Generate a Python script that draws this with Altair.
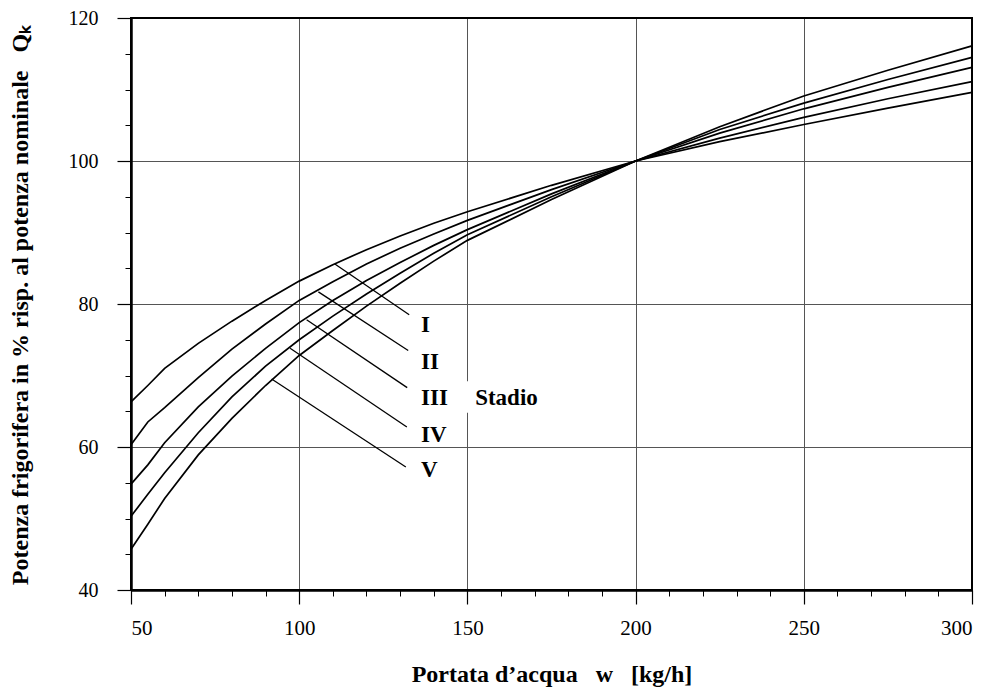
import altair as alt
import pandas as pd

# ---- data ----
flow = [50, 55, 60, 70, 80, 90, 100, 110, 120, 130, 140, 150, 175, 200, 225, 250, 275, 300]
stadio_I = [66.3, 68.6, 71.0, 74.5, 77.6, 80.5, 83.2, 85.5, 87.6, 89.5, 91.3, 92.9, 96.6, 100.0, 102.7, 105.1, 107.4, 109.6]
stadio_II = [60.3, 63.5, 65.5, 69.7, 73.7, 77.2, 80.5, 83.1, 85.6, 87.8, 89.8, 91.7, 96.0, 100.0, 103.2, 106.1, 108.7, 111.1]
stadio_III = [54.8, 57.5, 60.6, 65.6, 69.9, 73.8, 77.4, 80.5, 83.3, 85.8, 88.2, 90.4, 95.4, 100.0, 103.9, 107.3, 110.3, 113.1]
stadio_IV = [50.3, 53.4, 56.4, 62.0, 67.0, 71.3, 75.0, 78.3, 81.4, 84.3, 87.1, 89.7, 95.0, 100.0, 104.4, 108.1, 111.4, 114.5]
stadio_V = [45.7, 49.2, 52.8, 58.9, 64.0, 68.6, 72.8, 76.3, 79.7, 82.9, 86.0, 88.9, 94.6, 100.0, 104.8, 109.1, 112.7, 116.1]

series_names = ["I", "II", "III", "IV", "V"]
series_values = [stadio_I, stadio_II, stadio_III, stadio_IV, stadio_V]

# leader lines from curves to the labels
leader_x1 = [110.6, 105.7, 102.2, 97.3, 91.8]
leader_y1 = [85.6, 81.7, 77.8, 73.8, 69.5]
leader_x2 = [132.7, 132.4, 132.1, 132.0, 131.7]
leader_y2 = [78.5, 73.5, 68.3, 62.8, 57.2]
label_x = [136.2, 136.2, 136.2, 136.2, 136.2]
label_y = [77.1, 71.9, 66.85, 61.7, 56.8]
stadio_text = ["Stadio"]
stadio_x = [152.3]
stadio_y = [66.85]
box_x = [145.0]
box_x2 = [176.0]
box_y = [64.8]
box_y2 = [69.2]

# plot frame (data domain corners)
frame_x = [50]
frame_x2 = [300]
frame_y = [40]
frame_y2 = [120]

x_major = [50, 100, 150, 200, 250, 300]
x_minor = [v for v in range(60, 300, 10) if v % 50 != 0]
y_major = [40, 60, 80, 100, 120]
y_minor = [v for v in range(45, 120, 5) if v % 20 != 0]

SP = "\u00a0"
x_title = "Portata d\u2019acqua" + SP * 3 + "w" + SP * 3 + "[kg/h]"
y_title = "Potenza frigorifera in % risp. al potenza nominale" + SP * 3 + "Q\u2096"

# ---- tables ----
rows = []
for name, vals in zip(series_names, series_values):
    for f, v in zip(flow, vals):
        rows.append({"stadio": name, "flow": f, "q": v})
curves = pd.DataFrame(rows)

leaders = pd.DataFrame({"x1": leader_x1, "y1": leader_y1, "x2": leader_x2, "y2": leader_y2})
labels = pd.DataFrame({"x": label_x, "y": label_y, "t": series_names})
stadio = pd.DataFrame({"x": stadio_x, "y": stadio_y, "t": stadio_text})
box = pd.DataFrame({"x": box_x, "x2": box_x2, "y": box_y, "y2": box_y2})
frame = pd.DataFrame({"x": frame_x, "x2": frame_x2, "y": frame_y, "y2": frame_y2})

FONT = "Liberation Serif"
xs = alt.Scale(domain=[50, 300], nice=False, zero=False)
ys = alt.Scale(domain=[40, 120], nice=False, zero=False)

major_x_axis = alt.Axis(values=x_major, tickSize=14, tickColor="black", tickWidth=1.2,
                        labelFont=FONT, labelFontSize=21, labelColor="black", labelPadding=13,
                        grid=True, gridColor="#555555", gridWidth=1,
                        domain=True, domainColor="black", domainWidth=2.5,
                        title=x_title, titleFont=FONT, titleFontSize=24, titleFontWeight="bold",
                        titleColor="black", titleX=420.5, titleY=84, titleBaseline="middle",
                        titleAlign="center", orient="bottom")
major_y_axis = alt.Axis(values=y_major, tickSize=14, tickColor="black", tickWidth=1.2,
                        labelFont=FONT, labelFontSize=20, labelColor="black", labelPadding=19,
                        grid=True, gridColor="#555555", gridWidth=1,
                        domain=True, domainColor="black", domainWidth=2.5,
                        title=y_title, titleFont=FONT, titleFontSize=24, titleFontWeight="bold",
                        titleColor="black", titleX=-111, titleY=287, titleAngle=270,
                        titleBaseline="middle", titleAlign="center", orient="left")
minor_x_axis = alt.Axis(values=x_minor, tickSize=6, tickColor="black", labels=False,
                        grid=False, domain=False, title=None, orient="bottom")
minor_y_axis = alt.Axis(values=y_minor, tickSize=6, tickColor="black", labels=False,
                        grid=False, domain=False, title=None, orient="left")

lines = alt.Chart(curves).mark_line(color="black", strokeWidth=1.7).encode(
    x=alt.X("flow:Q", scale=xs, axis=major_x_axis),
    y=alt.Y("q:Q", scale=ys, axis=major_y_axis),
    detail="stadio:N",
)

lead = alt.Chart(leaders).mark_rule(color="black", strokeWidth=1.3).encode(
    x=alt.X("x1:Q", scale=xs, axis=minor_x_axis),
    y=alt.Y("y1:Q", scale=ys, axis=minor_y_axis),
    x2="x2:Q",
    y2="y2:Q",
)

bg = alt.Chart(box).mark_rect(color="white").encode(
    x=alt.X("x:Q", scale=xs, axis=None),
    x2="x2:Q",
    y=alt.Y("y:Q", scale=ys, axis=None),
    y2="y2:Q",
)

border = alt.Chart(frame).mark_rect(fill=None, fillOpacity=0, stroke="black", strokeWidth=2).encode(
    x=alt.X("x:Q", scale=xs, axis=None),
    x2="x2:Q",
    y=alt.Y("y:Q", scale=ys, axis=None),
    y2="y2:Q",
)

lab = alt.Chart(labels).mark_text(align="left", baseline="middle", font=FONT, fontSize=23,
                                  fontWeight="bold", color="black").encode(
    x=alt.X("x:Q", scale=xs, axis=None),
    y=alt.Y("y:Q", scale=ys, axis=None),
    text="t:N",
)

stad = alt.Chart(stadio).mark_text(align="left", baseline="middle", font=FONT, fontSize=23,
                                   fontWeight="bold", color="black").encode(
    x=alt.X("x:Q", scale=xs, axis=None),
    y=alt.Y("y:Q", scale=ys, axis=None),
    text="t:N",
)

chart = alt.layer(lines, lead, bg, lab, stad, border).resolve_axis(
    x="independent", y="independent"
).properties(
    width=841, height=572,
    padding={"left": 123, "top": 10, "right": 11, "bottom": 97},
    autosize=alt.AutoSizeParams(type="none"),
    background="white",
).configure(
    font=FONT,
    view=alt.ViewConfig(stroke="black", strokeWidth=2),
)

chart.save("out.html", embed_options={"renderer": "svg", "actions": False})
